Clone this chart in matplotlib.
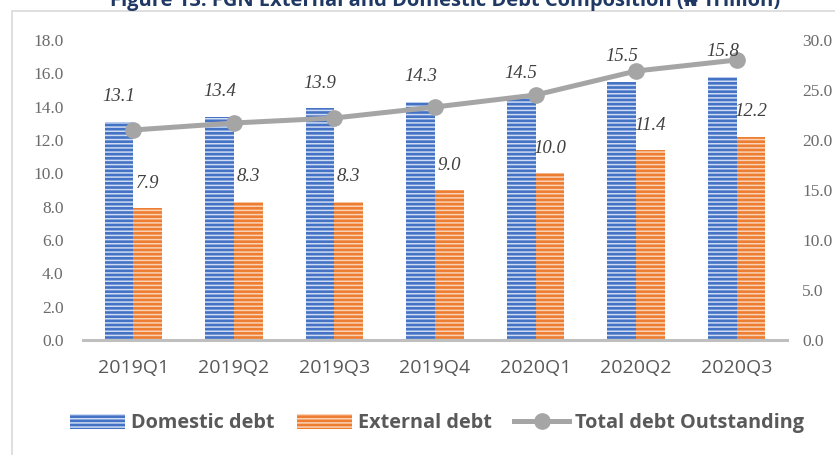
import matplotlib.pyplot as plt
from matplotlib.patches import Rectangle
import numpy as np

# values (N trillion)
quarters = ["2019Q1", "2019Q2", "2019Q3", "2019Q4", "2020Q1", "2020Q2", "2020Q3"]
domestic = [13.1, 13.4, 13.9, 14.3, 14.5, 15.5, 15.8]
external = [7.9, 8.3, 8.3, 9.0, 10.0, 11.4, 12.2]
total = [21.0, 21.7, 22.2, 23.3, 24.5, 26.9, 28.0]

title = "Figure 13: FGN External and Domestic Debt Composition (\u20a6 Trillion)"

plt.rcParams['hatch.linewidth'] = 1.1

fig = plt.figure(figsize=(8.35, 4.55), dpi=100)
ax = fig.add_axes([83 / 835, 1 - 340 / 455, 704 / 835, 300 / 455])
ax2 = ax.twinx()

x = np.arange(len(quarters))
w = 0.285
ax.bar(x - w / 2, domestic, w, color="#4472C4", edgecolor="#cfdcf3", linewidth=0,
       hatch="----", label="Domestic debt")
ax.bar(x + w / 2, external, w, color="#ED7D31", edgecolor="#fad2b6", linewidth=0,
       hatch="----", label="External debt")
ax2.plot(x, total, color="#A5A5A5", lw=3.6, marker="o", ms=11,
         label="Total debt Outstanding")

# data labels (drawn on ax2 so they sit above the line)
lab_font = dict(family="Liberation Serif", style="italic", size=13.5, color="#404040",
                ha="center", va="center")
for xi, d, e in zip(x, domestic, external):
    ax2.annotate(f"{d:.1f}", (xi - w / 2, d), xycoords=ax.transData,
                 xytext=(0, 18), textcoords="offset points", **lab_font)
    ax2.annotate(f"{e:.1f}", (xi + w / 2, e), xycoords=ax.transData,
                 xytext=(0, 18), textcoords="offset points", **lab_font)

ax.set_xlim(-0.5, len(quarters) - 0.5)
ax.set_ylim(0, 18)
ax2.set_ylim(0, 30)
ax.set_yticks(np.arange(0, 18.1, 2))
ax2.set_yticks(np.arange(0, 30.1, 5))
ax.set_yticklabels([f"{v:.1f}" for v in np.arange(0, 18.1, 2)])
ax2.set_yticklabels([f"{v:.1f}" for v in np.arange(0, 30.1, 5)])
ax.set_xticks(x)
ax.set_xticklabels(quarters, family="Open Sans", fontsize=14, color="#595959")

for a in (ax, ax2):
    for s in a.spines.values():
        s.set_visible(False)
    a.tick_params(axis="y", length=0, labelsize=12.5, labelcolor="#6b6b6b")
    for t in a.get_yticklabels():
        t.set_family("Liberation Serif")
ax.tick_params(axis="y", pad=14)
ax2.tick_params(axis="y", pad=11)
ax.tick_params(axis="x", length=0, pad=14)
ax.spines["bottom"].set_visible(True)
ax.spines["bottom"].set_color("#BFBFBF")
ax.spines["bottom"].set_linewidth(2.2)

h1, l1 = ax.get_legend_handles_labels()
h2, l2 = ax2.get_legend_handles_labels()
fig.legend(h1 + h2, l1 + l2, loc="center", bbox_to_anchor=(437 / 835, 1 - 423 / 455),
           ncol=3, frameon=False, handlelength=2.8, handleheight=0.8, columnspacing=1.1,
           handletextpad=0.3, prop=dict(family="Open Sans", weight="bold", size=14.3),
           labelcolor="#595959")

fig.text(445 / 835, 1 - 6 / 455, title, ha="center", va="baseline",
         family=["Open Sans", "DejaVu Sans"], weight="bold", fontsize=14.5, color="#1F3864")

fig.patches.append(Rectangle((12 / 835, -0.1), 1.2, 1.1 - 11 / 455, transform=fig.transFigure,
                             fill=False, edgecolor="#D9D9D9", lw=1.2))

fig.savefig("out.png", dpi=100)
